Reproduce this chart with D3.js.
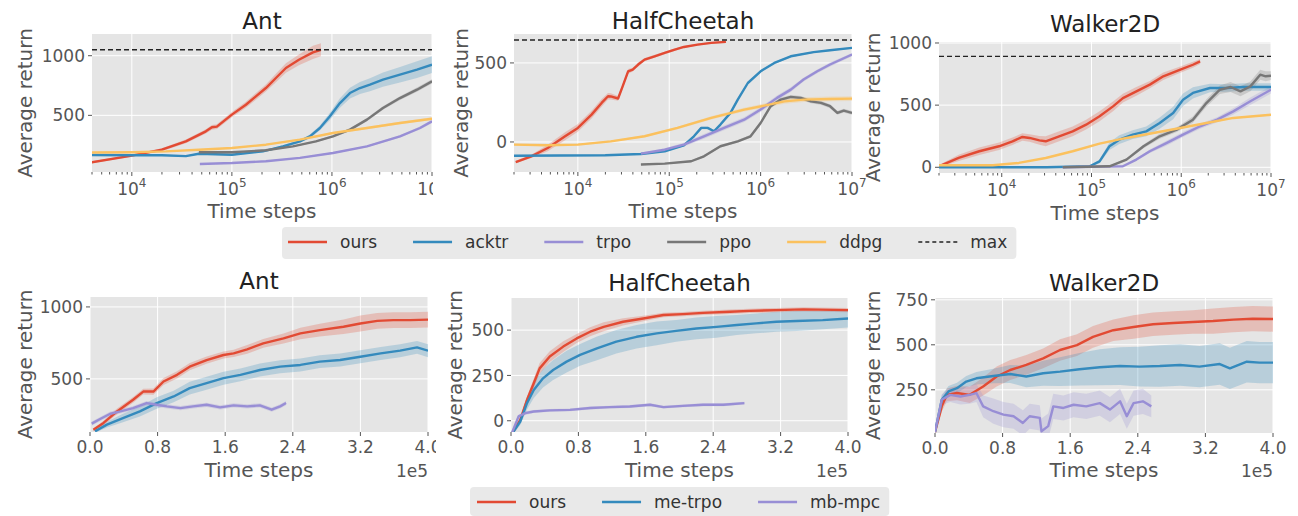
<!DOCTYPE html>
<html>
<head>
<meta charset="utf-8">
<script src="https://cdn.jsdelivr.net/npm/d3@7"></script>
<style>
  body { margin: 0; background: #fff; }
  text { font-family: "DejaVu Sans", sans-serif; }
</style>
</head>
<body>
<div id="chart"></div>
<script>
// top row: [log10(time steps), average return, spread]
var antTopOurs = [[3.6,106,8],[4.0,162,10],[4.3,212,12],[4.54,282,15],[4.74,366,18],[4.8,400,20],[4.85,405,20],[5.0,506,22],[5.14,589,25],[5.24,659,28],[5.34,729,30],[5.44,813,35],[5.54,897,40],[5.67,966,45],[5.81,1028,55],[5.89,1050,55]];
var antTopAcktr = [[3.6,168,4],[4.0,165,4],[4.3,166,5],[4.54,158,5],[4.67,178,6],[5.0,170,6],[5.31,198,8],[5.51,240,10],[5.68,282,12],[5.78,324,15],[5.88,394,20],[5.98,492,30],[6.08,603,40],[6.18,687,45],[6.28,729,50],[6.38,757,55],[6.51,799,60],[6.68,841,65],[6.85,883,70],[7.0,925,70]];
var antTopTrpo = [[4.68,92,3],[5.0,100,3],[5.34,115,4],[5.68,143,5],[6.01,184,6],[6.35,240,8],[6.68,324,10],[6.88,394,12],[7.0,450,15]];
var antTopPpo = [[4.67,190,4],[5.0,190,4],[5.34,207,5],[5.61,240,6],[5.84,282,8],[6.01,324,10],[6.18,380,12],[6.35,464,14],[6.51,561,15],[6.68,645,16],[6.85,715,18],[7.0,785,18]];
var antTopDdpg = [[3.6,188,3],[4.0,190,3],[4.34,198,4],[4.67,212,4],[5.0,226,5],[5.34,254,6],[5.68,296,8],[6.01,352,8],[6.35,394,10],[6.68,436,10],[7.0,472,12]];

var hcTopOurs = [[3.32,-127,8],[3.49,-91,10],[3.67,-38,20],[3.86,36,25],[4.0,89,25],[4.15,173,25],[4.26,247,25],[4.33,289,20],[4.36,288,20],[4.44,275,15],[4.49,352,15],[4.55,447,15],[4.6,458,12],[4.66,490,12],[4.73,521,10],[4.84,542,10],[4.95,563,8],[5.06,584,8],[5.16,601,6],[5.31,616,6],[5.46,627,5],[5.62,633,5]];
var hcTopAcktr = [[3.3,-87,4],[4.3,-84,4],[4.69,-76,4],[4.95,-59,5],[5.16,-21,6],[5.27,36,8],[5.35,89,8],[5.42,89,8],[5.49,68,8],[5.56,110,8],[5.67,184,8],[5.75,268,8],[5.86,373,8],[6.0,447,6],[6.15,500,6],[6.33,542,6],[6.58,568,5],[6.76,580,5],[7.0,595,5]];
var hcTopTrpo = [[4.69,-74,8],[4.95,-49,10],[5.16,-17,12],[5.38,36,15],[5.6,89,15],[5.82,141,15],[6.0,205,15],[6.18,279,15],[6.33,331,15],[6.47,395,12],[6.62,447,12],[6.76,490,12],[7.0,553,10]];
var hcTopPpo = [[4.69,-143,4],[4.95,-137,4],[5.24,-122,6],[5.38,-91,8],[5.56,-27,8],[5.75,4,8],[5.89,36,10],[6.0,120,12],[6.11,226,12],[6.22,268,12],[6.33,285,12],[6.44,279,12],[6.55,257,12],[6.66,247,12],[6.76,226,12],[6.84,184,12],[6.91,198,12],[7.0,184,12]];
var hcTopDdpg = [[3.3,-17,6],[3.67,-21,6],[4.0,-17,6],[4.36,4,6],[4.73,36,6],[5.09,89,8],[5.46,152,10],[5.82,205,12],[6.04,230,14],[6.26,257,15],[6.47,268,15],[6.76,272,15],[7.0,274,15]];

var walkerTopOurs = [[3.3,8,10],[3.52,75,25],[3.75,129,30],[3.97,169,30],[4.12,209,30],[4.23,244,30],[4.31,236,30],[4.42,217,35],[4.49,209,40],[4.64,249,40],[4.79,289,40],[4.94,343,40],[5.09,410,40],[5.24,490,40],[5.35,557,35],[5.5,611,35],[5.65,665,30],[5.8,732,30],[5.99,785,25],[6.13,825,25],[6.21,852,20]];
var walkerTopAcktr = [[3.3,0,2],[4.5,0,2],[4.98,8,5],[5.09,48,15],[5.2,169,30],[5.31,222,35],[5.46,263,35],[5.61,289,40],[5.76,356,45],[5.91,437,50],[6.02,544,50],[6.13,598,45],[6.32,638,35],[6.51,638,30],[6.69,646,30],[7.0,646,30]];
var walkerTopTrpo = [[4.68,0,2],[5.35,8,4],[5.5,62,10],[5.65,129,15],[5.84,196,20],[6.02,263,20],[6.21,330,20],[6.4,383,20],[6.58,450,25],[6.77,531,30],[7.0,624,30]];
var walkerTopPpo = [[4.68,0,2],[5.2,8,4],[5.39,62,10],[5.58,169,15],[5.76,249,20],[5.95,303,20],[6.13,383,25],[6.28,517,30],[6.43,624,35],[6.55,646,40],[6.66,611,40],[6.77,651,40],[6.88,745,40],[6.94,732,40],[7.0,737,35]];
var walkerTopDdpg = [[3.3,16,3],[3.9,16,3],[4.19,35,4],[4.49,75,5],[4.79,129,5],[5.09,190,6],[5.39,236,6],[5.69,276,6],[5.99,316,6],[6.28,356,6],[6.58,397,6],[7.0,423,6]];

var topMax = [1050, 645, 892];

// bottom row: [time steps (x 1e5), average return, spread]
var antOurs = [[0.04,147,10],[0.16,194,15],[0.32,274,20],[0.51,355,20],[0.63,412,20],[0.75,412,22],[0.87,482,25],[1.03,528,25],[1.18,585,25],[1.38,631,25],[1.58,666,25],[1.7,677,25],[1.86,705,30],[2.05,747,30],[2.29,781,35],[2.49,816,40],[2.72,839,45],[3.0,862,50],[3.2,885,55],[3.4,903,55],[3.59,908,55],[3.79,908,55],[4.0,912,55]];
var antMeTrpo = [[0.06,136,10],[0.2,182,20],[0.39,228,30],[0.59,274,35],[0.79,332,40],[0.99,378,40],[1.18,436,45],[1.38,470,45],[1.58,505,45],[1.78,528,45],[2.01,562,45],[2.25,585,45],[2.49,597,45],[2.72,620,45],[2.96,631,45],[3.2,654,45],[3.44,677,45],[3.67,696,45],[3.87,719,45],[4.0,696,45]];
var antMbMpc = [[0.02,189,15],[0.12,221,15],[0.24,258,15],[0.36,274,15],[0.51,297,15],[0.67,332,15],[0.79,320,15],[0.91,309,15],[1.07,297,15],[1.22,309,15],[1.38,320,15],[1.54,302,15],[1.7,316,15],[1.86,309,15],[2.01,316,15],[2.15,286,15],[2.25,309,15],[2.32,332,15]];

var hcOurs = [[0.0,-80,10],[0.11,5,15],[0.19,115,20],[0.27,207,25],[0.34,289,30],[0.46,354,30],[0.62,409,30],[0.78,454,25],[0.94,491,25],[1.1,518,25],[1.33,546,20],[1.57,564,15],[1.81,583,12],[2.04,588,12],[2.28,595,12],[2.6,601,12],[2.83,606,12],[3.15,610,12],[3.47,614,12],[4.0,610,12]];
var hcMeTrpo = [[0.0,-80,10],[0.11,-4,20],[0.19,97,35],[0.27,170,45],[0.38,234,50],[0.5,280,55],[0.66,326,60],[0.82,363,60],[1.02,399,65],[1.25,436,65],[1.49,463,65],[1.73,482,65],[1.96,496,60],[2.2,509,60],[2.44,518,60],[2.68,528,55],[2.91,537,55],[3.15,546,55],[3.39,550,55],[3.7,555,50],[4.0,564,50]];
var hcMbMpc = [[0.0,-80,10],[0.09,24,10],[0.17,42,10],[0.27,51,8],[0.46,57,8],[0.7,60,8],[0.94,70,8],[1.17,75,8],[1.41,79,8],[1.65,88,8],[1.81,75,8],[2.04,82,8],[2.28,88,8],[2.52,88,8],[2.77,97,8]];

var walkerOurs = [[0.0,15,10],[0.08,158,30],[0.14,222,35],[0.26,232,40],[0.41,222,45],[0.57,268,50],[0.73,324,55],[0.89,360,55],[1.08,388,55],[1.28,425,55],[1.48,471,60],[1.68,498,60],[1.87,544,60],[2.11,581,60],[2.35,599,65],[2.58,614,65],[2.82,621,65],[3.05,627,65],[3.29,632,70],[3.53,640,70],[3.76,645,70],[4.0,643,70]];
var walkerMeTrpo = [[0.0,15,10],[0.08,195,25],[0.16,241,30],[0.26,259,30],[0.37,296,30],[0.49,314,35],[0.69,327,40],[0.89,338,50],[1.08,324,60],[1.28,342,70],[1.48,351,80],[1.71,364,90],[1.95,375,100],[2.19,382,105],[2.42,379,110],[2.66,382,115],[2.9,388,115],[3.13,379,115],[3.37,393,115],[3.49,369,115],[3.69,406,115],[3.84,401,115],[4.0,401,115]];
var walkerMbMpc = [[0.0,15,10],[0.08,195,30],[0.18,222,40],[0.3,213,45],[0.41,222,50],[0.49,232,50],[0.57,158,60],[0.69,131,70],[0.81,112,70],[0.93,103,70],[1.04,66,70],[1.12,103,70],[1.24,94,70],[1.26,20,70],[1.34,48,70],[1.4,158,70],[1.52,149,70],[1.64,167,70],[1.79,158,70],[1.95,176,70],[2.07,140,70],[2.19,186,70],[2.27,103,70],[2.35,176,70],[2.46,186,70],[2.56,158,60]];

var topLegend = ['ours', 'acktr', 'trpo', 'ppo', 'ddpg', 'max'];
var bottomLegend = ['ours', 'me-trpo', 'mb-mpc'];
var bottomXTicks = [0, 0.8, 1.6, 2.4, 3.2, 4.0];

var colors = {
  'ours': '#E24A33', 'acktr': '#348ABD', 'me-trpo': '#348ABD',
  'trpo': '#988ED5', 'mb-mpc': '#988ED5', 'ppo': '#777777', 'ddpg': '#FBC15E'
};

var svg = d3.select('#chart')
  .append('svg')
  .attr('width', 1298)
  .attr('height', 516);

svg.append('rect').attr('width', 1298).attr('height', 516).attr('fill', '#fff');

var panel_count = 0;

function draw_panel(p) {
  panel_count++;
  var g = svg.append('g');

  // white backing, later panels cover the overflow of earlier ones
  g.append('rect')
    .attr('x', p.bg[0]).attr('y', p.bg[1])
    .attr('width', p.bg[2] - p.bg[0]).attr('height', p.bg[3] - p.bg[1])
    .attr('fill', '#fff');

  var x = p.log ? d3.scaleLog() : d3.scaleLinear();
  x.domain(p.xDomain).range([p.left, p.right]);
  var y = d3.scaleLinear().domain(p.yDomain).range([p.bottom, p.top]);
  var xv = (d) => p.log ? Math.pow(10, d[0]) : d[0];

  g.append('rect')
    .attr('x', p.left).attr('y', p.top)
    .attr('width', p.right - p.left).attr('height', p.bottom - p.top)
    .attr('fill', '#E5E5E5');

  var xTicks = p.log ? [1e4, 1e5, 1e6, 1e7] : bottomXTicks;

  // grid
  g.selectAll('.gx').data(xTicks).enter().append('line')
    .attr('x1', (d) => x(d)).attr('x2', (d) => x(d))
    .attr('y1', p.top).attr('y2', p.bottom)
    .attr('stroke', '#fff').attr('stroke-width', 1);
  g.selectAll('.gy').data(p.yTicks).enter().append('line')
    .attr('x1', p.left).attr('x2', p.right)
    .attr('y1', (d) => y(d)).attr('y2', (d) => y(d))
    .attr('stroke', '#fff').attr('stroke-width', 1);

  var clip_id = 'clip' + panel_count;
  g.append('clipPath').attr('id', clip_id)
    .append('rect')
    .attr('x', p.left).attr('y', p.top)
    .attr('width', p.right - p.left).attr('height', p.bottom - p.top);
  var plot = g.append('g').attr('clip-path', 'url(#' + clip_id + ')');

  var area = d3.area()
    .x((d) => x(xv(d)))
    .y0((d) => y(d[1] - d[2]))
    .y1((d) => y(d[1] + d[2]));
  var line = d3.line()
    .x((d) => x(xv(d)))
    .y((d) => y(d[1]));

  p.series.forEach(function(s) {
    plot.append('path').datum(s.data)
      .attr('d', area)
      .attr('fill', colors[s.name])
      .attr('opacity', 0.25);
  });
  p.series.forEach(function(s) {
    plot.append('path').datum(s.data)
      .attr('d', line)
      .attr('fill', 'none')
      .attr('stroke', colors[s.name])
      .attr('stroke-width', 2.4)
      .attr('stroke-linejoin', 'round');
  });

  if (p.max != null) {
    plot.append('line')
      .attr('x1', p.left).attr('x2', p.right)
      .attr('y1', y(p.max)).attr('y2', y(p.max))
      .attr('stroke', '#222').attr('stroke-width', 1.4)
      .attr('stroke-dasharray', '5,3');
  }

  // ticks
  g.selectAll('.ty').data(p.yTicks).enter().append('line')
    .attr('x1', p.left - 4).attr('x2', p.left)
    .attr('y1', (d) => y(d)).attr('y2', (d) => y(d))
    .attr('stroke', '#555');
  g.selectAll('.tyl').data(p.yTicks).enter().append('text')
    .attr('x', p.left - 7)
    .attr('y', (d) => y(d))
    .attr('dy', '0.36em')
    .attr('text-anchor', 'end')
    .attr('font-size', 17)
    .attr('fill', '#555')
    .text((d) => d);

  g.selectAll('.tx').data(xTicks).enter().append('line')
    .attr('x1', (d) => x(d)).attr('x2', (d) => x(d))
    .attr('y1', p.bottom).attr('y2', p.bottom + 4)
    .attr('stroke', '#555');

  if (p.log) {
    var minor = [];
    for (var k = 3; k < 7; k++) {
      for (var m = 2; m < 10; m++) {
        var v = m * Math.pow(10, k);
        if (v >= p.xDomain[0] && v <= p.xDomain[1]) minor.push(v);
      }
    }
    g.selectAll('.tm').data(minor).enter().append('line')
      .attr('x1', (d) => x(d)).attr('x2', (d) => x(d))
      .attr('y1', p.bottom).attr('y2', p.bottom + 2.5)
      .attr('stroke', '#555');
    var lbl = g.selectAll('.txl').data(xTicks).enter().append('text')
      .attr('x', (d) => x(d))
      .attr('y', p.bottom + 23)
      .attr('text-anchor', 'middle')
      .attr('font-size', 17)
      .attr('fill', '#555');
    lbl.append('tspan').text('10');
    lbl.append('tspan')
      .attr('dy', -8)
      .attr('font-size', 12)
      .text((d) => Math.round(Math.log10(d)));
  } else {
    g.selectAll('.txl').data(xTicks).enter().append('text')
      .attr('x', (d) => x(d))
      .attr('y', p.bottom + 21)
      .attr('text-anchor', 'middle')
      .attr('font-size', 17)
      .attr('fill', '#555')
      .text((d) => d3.format('.1f')(d));
    g.append('text')
      .attr('x', p.right).attr('y', p.xLabelY)
      .attr('text-anchor', 'end')
      .attr('font-size', 17)
      .attr('fill', '#555')
      .text('1e5');
  }

  // labels
  g.append('text')
    .attr('x', (p.left + p.right) / 2).attr('y', p.titleY)
    .attr('text-anchor', 'middle')
    .attr('font-size', 23)
    .attr('fill', '#222')
    .text(p.title);
  g.append('text')
    .attr('x', (p.left + p.right) / 2).attr('y', p.xLabelY)
    .attr('text-anchor', 'middle')
    .attr('font-size', 20)
    .attr('fill', '#555')
    .text('Time steps');
  g.append('text')
    .attr('transform', 'translate(' + p.yLabelX + ',' + ((p.top + p.bottom) / 2) + ') rotate(-90)')
    .attr('text-anchor', 'middle')
    .attr('font-size', 20)
    .attr('fill', '#555')
    .text('Average return');
}

function top_series(ours, acktr, trpo, ppo, ddpg) {
  return [
    {name: 'ours', data: ours}, {name: 'acktr', data: acktr},
    {name: 'trpo', data: trpo}, {name: 'ppo', data: ppo}, {name: 'ddpg', data: ddpg}
  ];
}
function bottom_series(ours, me, mb) {
  return [{name: 'ours', data: ours}, {name: 'me-trpo', data: me}, {name: 'mb-mpc', data: mb}];
}

draw_panel({log: true, title: 'Ant', left: 92, right: 432, top: 34, bottom: 172,
  xDomain: [4000, 1e7], yDomain: [25, 1182], yTicks: [500, 1000], max: topMax[0],
  bg: [0, 0, 433, 226], titleY: 29, xLabelY: 218, yLabelX: 32,
  series: top_series(antTopOurs, antTopAcktr, antTopTrpo, antTopPpo, antTopDdpg)});
draw_panel({log: true, title: 'HalfCheetah', left: 514, right: 852, top: 34, bottom: 172,
  xDomain: [2000, 1e7], yDomain: [-190, 683], yTicks: [0, 500], max: topMax[1],
  bg: [433, 0, 868, 226], titleY: 29, xLabelY: 218, yLabelX: 468,
  series: top_series(hcTopOurs, hcTopAcktr, hcTopTrpo, hcTopPpo, hcTopDdpg)});
draw_panel({log: true, title: 'Walker2D', left: 939, right: 1271, top: 42, bottom: 173,
  xDomain: [2000, 1e7], yDomain: [-46, 1008], yTicks: [0, 500, 1000], max: topMax[2],
  bg: [868, 0, 1298, 226], titleY: 32, xLabelY: 220, yLabelX: 880,
  series: top_series(walkerTopOurs, walkerTopAcktr, walkerTopTrpo, walkerTopPpo, walkerTopDdpg)});

draw_panel({log: false, title: 'Ant', left: 90, right: 428, top: 297, bottom: 432,
  xDomain: [0, 4], yDomain: [131, 1069], yTicks: [500, 1000],
  bg: [0, 262, 436, 484], titleY: 289, xLabelY: 477, yLabelX: 32,
  series: bottom_series(antOurs, antMeTrpo, antMbMpc)});
draw_panel({log: false, title: 'HalfCheetah', left: 511, right: 848, top: 298, bottom: 432,
  xDomain: [0, 4], yDomain: [-62, 677], yTicks: [0, 250, 500],
  bg: [436, 262, 864, 484], titleY: 291, xLabelY: 477, yLabelX: 462,
  series: bottom_series(hcOurs, hcMeTrpo, hcMbMpc)});
draw_panel({log: false, title: 'Walker2D', left: 935, right: 1273, top: 298, bottom: 433,
  xDomain: [0, 4], yDomain: [10, 760], yTicks: [250, 500, 750],
  bg: [864, 262, 1298, 484], titleY: 291, xLabelY: 477, yLabelX: 880,
  series: bottom_series(walkerOurs, walkerMeTrpo, walkerMbMpc)});

// legends
function draw_legend(names, box, startX, lineY, textY) {
  var g = svg.append('g');
  var bg = g.append('rect')
    .attr('x', box[0]).attr('y', box[1])
    .attr('height', box[3] - box[1])
    .attr('rx', 4)
    .attr('fill', '#E9E9E9');
  var cx = startX;
  names.forEach(function(n) {
    var ln = g.append('line')
      .attr('x1', cx).attr('x2', cx + 39)
      .attr('y1', lineY).attr('y2', lineY)
      .attr('stroke', n == 'max' ? '#222' : colors[n])
      .attr('stroke-width', n == 'max' ? 1.4 : 2.4);
    if (n == 'max') ln.attr('stroke-dasharray', '4,3');
    var t = g.append('text')
      .attr('x', cx + 52).attr('y', textY)
      .attr('font-size', 17)
      .attr('fill', '#333')
      .text(n);
    cx = cx + 52 + t.node().getComputedTextLength() + 36;
  });
  bg.attr('width', cx - 36 + 9 - box[0]);
}

draw_legend(topLegend, [282, 227, 0, 259], 288, 242, 248);
draw_legend(bottomLegend, [470, 487, 0, 516], 477, 502, 508);
</script>
</body>
</html>
